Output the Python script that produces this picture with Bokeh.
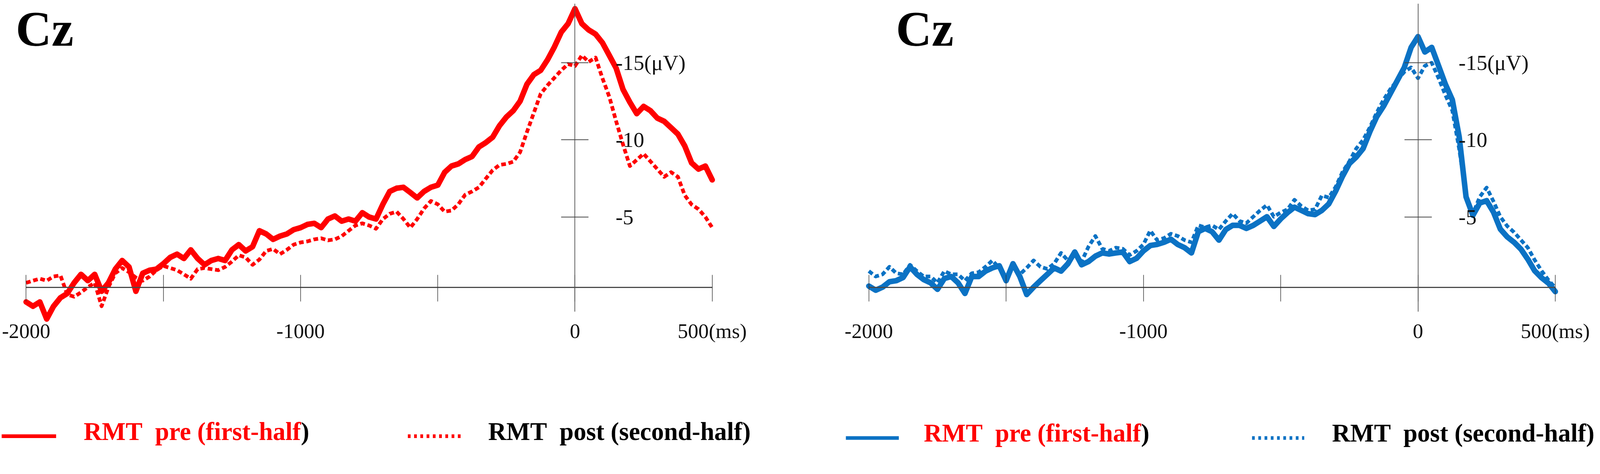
from bokeh.plotting import figure
from bokeh.models import Range1d, LinearAxis, FixedTicker, Label
from bokeh.layouts import row
from bokeh.embed import file_html
from bokeh.resources import INLINE

# ---------------- data (µV, negative up; time in ms) ----------------
TIME_MS = list(range(-2000, 501, 25))

LEFT_PRE = [
    0.52, 0.80, 0.52, 1.63, 0.80, 0.25, -0.03, -0.72, -1.27, -0.86,
    -1.27, -0.17, -0.72, -1.61, -2.17, -1.75, -0.17, -1.34, -1.54, -1.61,
    -1.96, -2.37, -2.58, -2.30, -2.86, -2.30, -1.89, -2.17, -2.30, -2.17,
    -2.86, -3.20, -2.79, -3.06, -4.10, -3.89, -3.54, -3.75, -3.89, -4.17,
    -4.30, -4.51, -4.58, -4.30, -4.86, -5.06, -4.72, -4.86, -4.72, -5.27,
    -4.99, -4.86, -5.82, -6.65, -6.86, -6.92, -6.58, -6.23, -6.65, -6.92,
    -7.06, -7.89, -8.30, -8.44, -8.72, -8.92, -9.54, -9.82, -10.17, -10.92,
    -11.48, -11.89, -12.51, -13.61, -14.23, -14.51, -15.20, -16.03, -16.99, -17.54,
    -18.51, -17.54, -17.13, -16.86, -16.30, -15.48, -14.65, -13.27, -12.44, -11.70,
    -12.17, -11.89, -11.41, -11.20, -10.79, -10.37, -9.60, -8.50, -8.10, -8.30,
    -7.40,
]
LEFT_POST = [
    -0.72, -0.86, -0.99, -0.86, -1.13, -1.20, 0.04, 0.18, -0.10, -0.44,
    -0.72, 0.80, -0.44, -1.34, -1.68, -1.41, -1.06, -0.86, -1.13, -1.54,
    -1.82, -1.68, -1.54, -1.27, -0.99, -1.61, -1.68, -1.61, -1.54, -1.75,
    -2.10, -2.51, -2.37, -1.89, -2.23, -2.79, -2.92, -2.58, -2.86, -3.20,
    -3.34, -3.41, -3.54, -3.61, -3.48, -3.54, -3.75, -4.10, -4.44, -4.58,
    -4.44, -4.23, -4.86, -5.20, -5.34, -4.86, -4.30, -4.86, -5.54, -6.03,
    -5.82, -5.34, -5.41, -5.82, -6.44, -6.65, -6.92, -7.48, -8.03, -8.37,
    -8.44, -8.58, -9.20, -10.51, -11.75, -12.99, -13.54, -14.03, -14.51, -14.92,
    -14.79, -15.48, -15.06, -15.34, -14.00, -12.80, -11.20, -9.70, -8.30, -8.70,
    -9.10, -8.60, -8.10, -7.60, -7.90, -7.60, -6.40, -5.80, -5.50, -5.00,
    -4.30,
]
RIGHT_PRE = [
    -0.51, -0.24, -0.44, -0.79, -0.86, -1.07, -1.76, -1.27, -0.93, -0.72,
    -0.30, -1.00, -1.13, -0.72, -0.03, -1.13, -1.13, -1.48, -1.69, -1.83,
    -0.86, -1.96, -1.13, 0.04, -0.44, -0.86, -1.27, -1.69, -1.48, -1.96,
    -2.72, -1.89, -2.10, -2.45, -2.66, -2.59, -2.66, -2.72, -2.10, -2.31,
    -2.79, -3.14, -3.21, -3.35, -3.55, -3.21, -3.00, -2.66, -4.04, -4.25,
    -4.04, -3.49, -4.18, -4.45, -4.45, -4.25, -4.45, -4.73, -5.01, -4.38,
    -4.87, -5.28, -5.63, -5.42, -5.21, -5.15, -5.42, -5.84, -6.67, -7.63,
    -8.46, -8.88, -9.43, -10.54, -11.51, -12.20, -13.03, -13.86, -14.69, -16.00,
    -16.70, -15.70, -16.00, -14.80, -13.60, -12.60, -10.20, -6.30, -5.10, -5.90,
    -6.05, -5.30, -4.20, -3.70, -3.35, -2.90, -2.25, -1.50, -1.05, -0.70,
    -0.15,
]
RIGHT_POST = [
    -1.48, -1.13, -1.27, -1.76, -1.34, -1.27, -1.89, -1.48, -1.13, -1.13,
    -0.72, -1.48, -1.27, -1.27, -0.86, -1.34, -1.41, -1.76, -2.17, -1.69,
    -1.13, -1.83, -1.27, -1.69, -2.17, -1.76, -1.62, -1.96, -2.66, -2.17,
    -2.52, -2.10, -3.07, -3.76, -2.93, -2.79, -3.00, -2.93, -2.52, -2.79,
    -3.21, -4.11, -3.49, -3.62, -3.90, -3.76, -3.49, -3.35, -4.45, -4.32,
    -4.45, -4.18, -4.73, -5.21, -4.73, -4.59, -5.01, -5.42, -5.77, -5.01,
    -5.28, -5.49, -6.11, -5.70, -5.42, -5.49, -6.39, -6.25, -6.94, -7.91,
    -8.60, -9.43, -9.99, -10.82, -11.78, -12.61, -13.31, -13.86, -14.41, -14.70,
    -14.00, -14.80, -15.00, -14.00, -12.90, -11.90, -9.40, -6.40, -5.20, -6.30,
    -6.90, -6.00, -5.00, -4.40, -4.00, -3.50, -3.00, -2.20, -1.50, -0.90,
    -0.40,
]

X_TICKS = [-2000, -1500, -1000, -500, 0, 500]
X_TICK_LABELS = ["-2000", "", "-1000", "", "0", "500(ms)"]
Y_TICKS = [-15, -10, -5]
Y_TICK_LABELS = ["-15(\u03bcV)", "-10", "-5"]
TITLE = "Cz"
LEGEND_PRE = "RMT\u00a0 pre (first-half"
LEGEND_PRE_END = ")"
LEGEND_POST = "RMT\u00a0 post (second-half)"

RED = "#ff0000"
BLUE = "#0b72c4"
AXIS = "#4a4a4a"
SERIF = "Liberation Serif"

# ---------------- layout ----------------
# positions below are given in target-picture pixels; S converts them to CSS px
S = 1 / 1.055
PIC_W, PIC_H = 4317, 1213


def px(v):
    return f"{v * S:.1f}px"


def dash(a, b):
    return f"{max(1, round(a * S))} {max(1, round(b * S))}"


W1 = round(2158 * S)
W2 = round(PIC_W * S) - 4 - W1
H = round(PIC_H * S) - 2

UV_REF = 41.6          # picture px per µV
ZERO_REF = 793.0       # picture y of 0 µV


def ref_to_y(ref_y):
    return (ref_y - ZERO_REF) / UV_REF


def text_mid(baseline_ref, size_ref):
    # vertical centre of a text box whose alphabetic baseline is baseline_ref
    return ref_to_y(baseline_ref - 0.34 * size_ref)


Y_TOP = ref_to_y(0)
Y_BOTTOM = ref_to_y(H / S)
AXIS_LEVEL = ref_to_y(775)
Y_AXIS_BOUNDS = (ref_to_y(9), ref_to_y(841))

TITLE_SIZE = 134
TITLE_BASELINE = 123


def make_panel(width, fig_left_css, x0_ref, x1_ref, pre, post, color,
               title_ref, leg, baseline_ref):
    ref_per_ms = (x1_ref - x0_ref) / 2500.0

    def ref_to_x(ref_x):
        return -2000 + (ref_x - x0_ref) / ref_per_ms

    x_start = ref_to_x(fig_left_css / S)
    x_end = ref_to_x((fig_left_css + width) / S)

    p = figure(width=width, height=H, x_range=Range1d(x_start, x_end),
               y_range=Range1d(Y_BOTTOM, Y_TOP), output_backend="svg",
               toolbar_location=None, min_border=0, x_axis_type=None,
               y_axis_type=None, background_fill_color="white",
               border_fill_color="white")
    p.outline_line_color = None
    p.title.visible = False

    p.line(TIME_MS, pre, line_color=color, line_width=15 * S,
           line_join="round", line_cap="round")
    p.line(TIME_MS, post, line_color=color, line_width=10 * S,
           line_dash=dash(13, 7), line_join="round")

    xax = LinearAxis(fixed_location=AXIS_LEVEL, bounds=(-2000, 500),
                     ticker=FixedTicker(ticks=X_TICKS, minor_ticks=[]),
                     major_label_overrides=dict(zip(X_TICKS, X_TICK_LABELS)),
                     axis_line_color=AXIS, axis_line_width=3 * S,
                     major_tick_line_color="#333333",
                     major_tick_line_width=1.5 * S,
                     major_tick_in=round(34 * S), major_tick_out=round(38 * S),
                     minor_tick_line_color=None,
                     major_label_text_font=SERIF,
                     major_label_text_font_size=px(56),
                     major_label_text_color="#111111",
                     major_label_standoff=round(50 * S))
    p.add_layout(xax, "below")

    yax = LinearAxis(fixed_location=0, bounds=Y_AXIS_BOUNDS,
                     ticker=FixedTicker(ticks=Y_TICKS, minor_ticks=[]),
                     major_label_overrides=dict(zip(Y_TICKS, Y_TICK_LABELS)),
                     axis_line_color="#555555", axis_line_width=2 * S,
                     major_tick_line_color="#444444",
                     major_tick_line_width=2 * S,
                     major_tick_in=round(37 * S), major_tick_out=round(37 * S),
                     minor_tick_line_color=None,
                     major_label_text_font=SERIF,
                     major_label_text_font_size=px(58),
                     major_label_text_color="#111111",
                     major_label_standoff=round(73 * S))
    p.add_layout(yax, "right")

    p.add_layout(Label(x=ref_to_x(title_ref),
                       y=text_mid(TITLE_BASELINE, TITLE_SIZE), text=TITLE,
                       text_font=SERIF, text_font_style="bold",
                       text_font_size=px(TITLE_SIZE), text_color="#000000",
                       text_baseline="middle"))

    (s0, s1, paren_ref, d0, d1, post_ref, line_ref) = leg
    ly = ref_to_y(line_ref)
    p.line([ref_to_x(s0), ref_to_x(s1)], [ly, ly], line_color=color,
           line_width=10 * S)
    p.line([ref_to_x(d0), ref_to_x(d1)], [ly, ly], line_color=color,
           line_width=10 * S, line_dash=dash(7, 9))
    by = text_mid(baseline_ref, 68)
    common = dict(text_font=SERIF, text_font_style="bold",
                  text_font_size=px(68), text_baseline="middle")
    p.add_layout(Label(x=ref_to_x(paren_ref), y=by, text=LEGEND_PRE,
                       text_color=RED, text_align="right", **common))
    p.add_layout(Label(x=ref_to_x(paren_ref), y=by, text=LEGEND_PRE_END,
                       text_color="#000000", text_align="left", **common))
    p.add_layout(Label(x=ref_to_x(post_ref), y=by, text=LEGEND_POST,
                       text_color="#000000", text_align="left", **common))
    return p


left = make_panel(W1, 0, 70, 1923, LEFT_PRE, LEFT_POST, RED, 42,
                  (4, 151, 812, 1101, 1248, 1318, 1177), 1188)
right = make_panel(W2, W1, 2346, 4200, RIGHT_PRE, RIGHT_POST, BLUE,
                   2419, (2284, 2427, 3081, 3381, 3522, 3597, 1182), 1192)

layout = row(left, right)
open("out.html", "w").write(file_html(layout, INLINE))
